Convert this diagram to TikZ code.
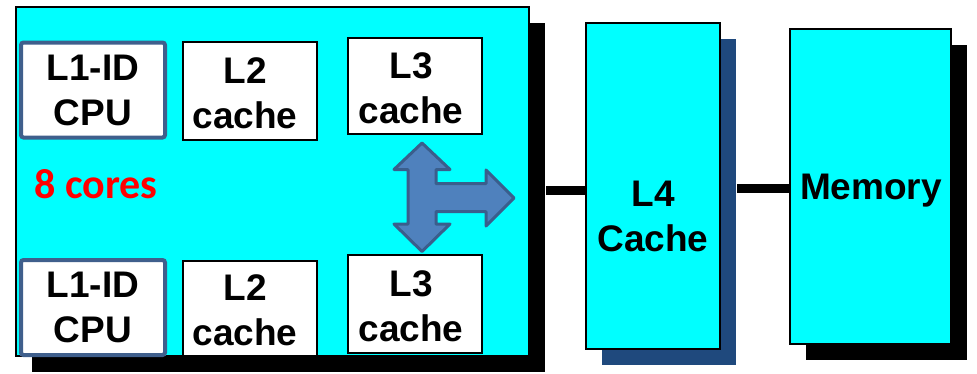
\documentclass[tikz,border=0pt]{standalone}
\usepackage{fontspec}
\setmainfont{Liberation Sans}
\newfontfamily\calibfont{Carlito}
\usetikzlibrary{shadows}
\definecolor{chipcyan}{HTML}{00FFFF}
\definecolor{cpuedge}{HTML}{3F5F8C}
\definecolor{arrowfill}{HTML}{4F81BD}
\definecolor{arrowedge}{HTML}{3A5E8C}
\definecolor{navyshadow}{HTML}{1F497D}
\definecolor{coresred}{HTML}{FF0000}
\begin{document}
\begin{tikzpicture}[x=1pt,y=-1pt,
  txt/.style={font=\bfseries\fontsize{37}{45}\selectfont, align=center, inner sep=0pt},
  blockbox/.style={draw=black, line width=2pt, fill=chipcyan, inner sep=0pt},
  blackshadow/.style={drop shadow={shadow xshift=16pt, shadow yshift=-16pt, fill=black, opacity=1}},
  cachebox/.style={draw=black, line width=2pt, fill=white, minimum width=134pt, inner sep=0pt},
  cpubox/.style={txt, draw=cpuedge, line width=4pt, fill=white, rounded corners=2.5pt,
    minimum width=144pt, minimum height=95pt},
  link/.style={draw=black, line width=9pt},
  bus/.style={draw=arrowedge, fill=arrowfill, line width=3pt, line join=round}
]
\useasboundingbox (0,0) rectangle (977,373);

% processor chip with its shadow
\node[blockbox, blackshadow, minimum width=513pt, minimum height=349pt] (main) at (272.5,181.5) {};

% L4 cache and main memory
\node[blockbox, drop shadow={shadow xshift=16pt, shadow yshift=-16pt, fill=navyshadow, opacity=1},
  minimum width=134pt, minimum height=326pt] (l4) at (653,186) {};
\node[blockbox, blackshadow, minimum width=161pt, minimum height=315pt] (mem) at (870.5,186.5) {};
\node[txt] (l4t) at (653,216.5) {L4\\Cache};
\node[txt] (memt) at (871,191) {Memory};

% upper core
\node[cpubox] (cpuA) at (93,90) {L1-ID\\CPU};
\node[cachebox, minimum height=98pt] (l2A) at (250,91) {};
\node[cachebox, minimum height=96pt] (l3A) at (415,86) {};
\node[txt] (l2At) at (245,93) {L2\\cache};
\node[txt] (l3At) at (411,88) {L3\\cache};

% lower core
\node[cpubox] (cpuB) at (93,307.5) {L1-ID\\CPU};
\node[cachebox, minimum height=95pt] (l2B) at (250,308.5) {};
\node[cachebox, minimum height=98pt] (l3B) at (415,304) {};
\node[txt] (l2Bt) at (245,310) {L2\\cache};
\node[txt] (l3Bt) at (411,306) {L3\\cache};

\node[inner sep=0pt, text=coresred, font=\calibfont\bfseries\fontsize{42}{50}\selectfont] (cores) at (96,184) {8 cores};

% three-way bus arrow between the L3 caches and the chip exit
\path[bus] (422,143) -- (450,169.5) -- (436,169.5) -- (436,183.5) -- (486,183.5) -- (486,170)
  -- (514,198) -- (486,226) -- (486,211.5) -- (436,211.5) -- (436,224) -- (450,224)
  -- (422,251.5) -- (394,224) -- (408,224) -- (408,211.5) -- (408,183.5) -- (408,169.5)
  -- (394,169.5) -- cycle;

% connections chip -> L4 -> memory
\draw[link] ([shift={(16,8.5)}]main.east) coordinate (busA) -- (busA -| l4.west);
\draw[link] ([shift={(16,2)}]l4.east) coordinate (busB) -- (busB -| mem.west);
\end{tikzpicture}
\end{document}
